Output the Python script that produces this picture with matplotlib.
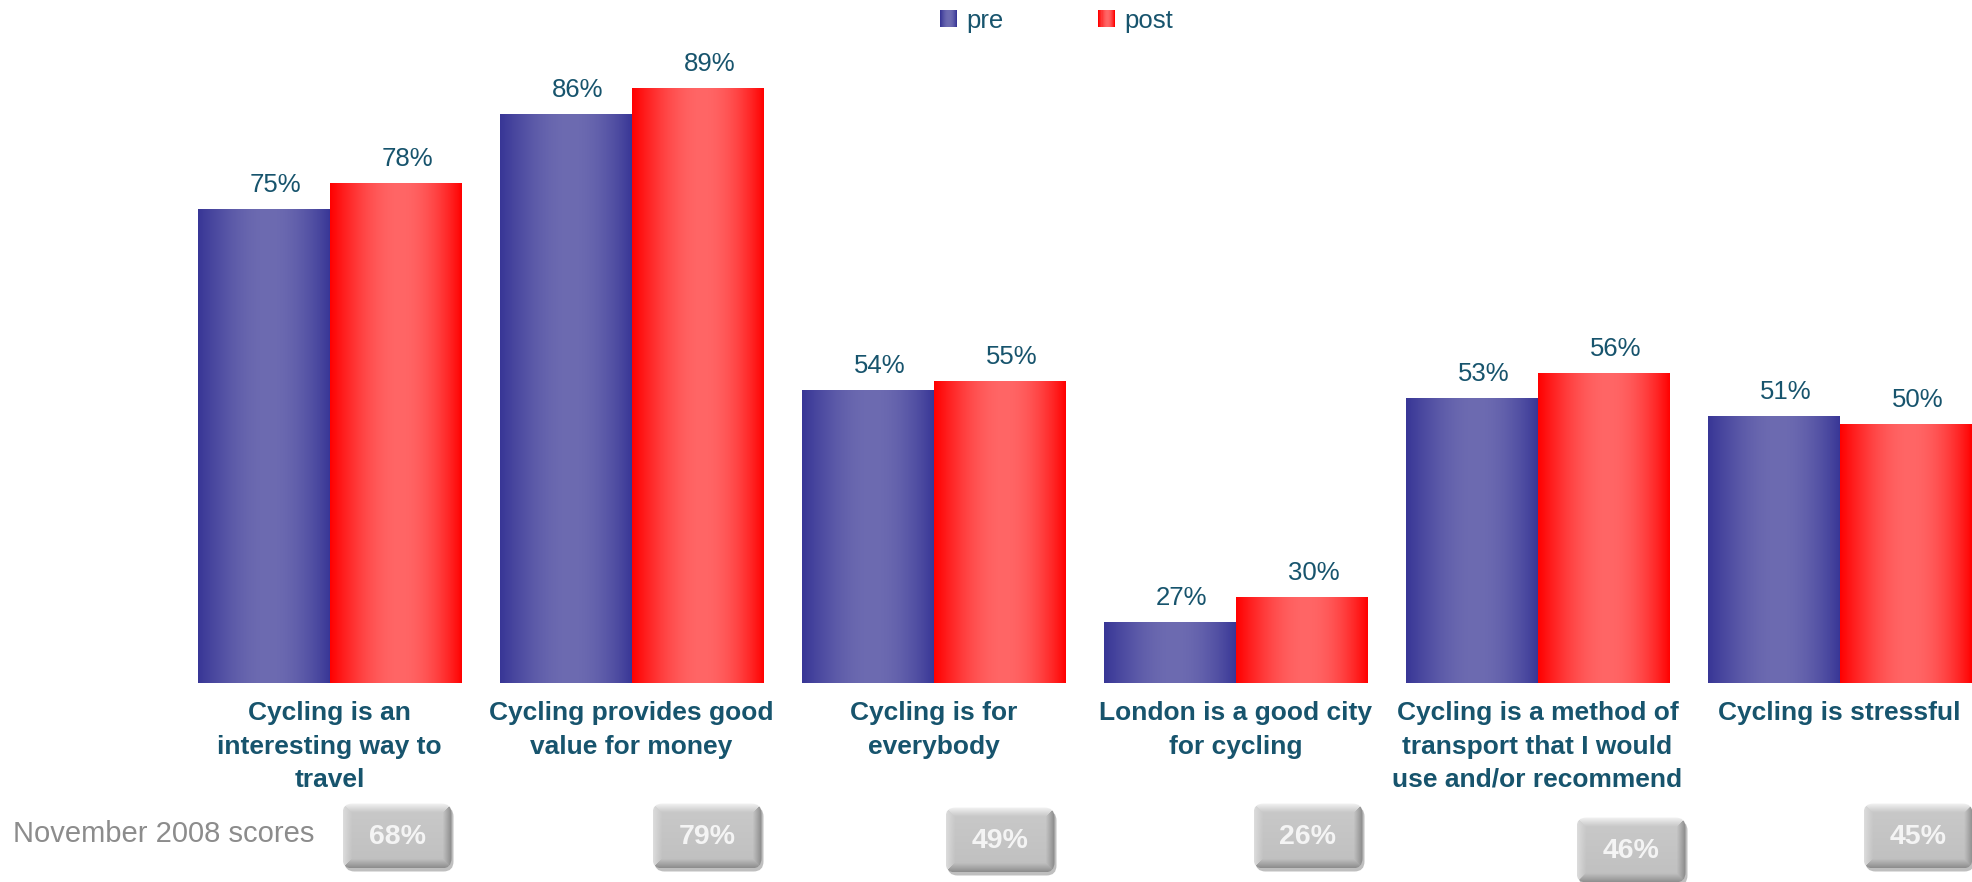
import numpy as np
import matplotlib
matplotlib.use("Agg")
import matplotlib.pyplot as plt
from matplotlib.patches import Rectangle, FancyBboxPatch, Patch
from matplotlib.legend_handler import HandlerBase
from matplotlib.colors import to_rgb

# ---- data ----
categories = [
    "Cycling is an\ninteresting way to\ntravel",
    "Cycling provides good\nvalue for money",
    "Cycling is for\neverybody",
    "London is a good city\nfor cycling",
    "Cycling is a method of\ntransport that I would\nuse and/or recommend",
    "Cycling is stressful",
]
series_names = ["pre", "post"]
pre = [75, 86, 54, 27, 53, 51]
post = [78, 89, 55, 30, 56, 50]
nov_2008 = [68, 79, 49, 26, 46, 45]
nov_label = "November 2008 scores"

# ---- style / layout ----
W, H = 1972, 882
TEAL = "#17546d"
PRE_EDGE, PRE_MID = "#383696", "#6d6bb1"
POST_EDGE, POST_MID = "#ff0000", "#ff6666"
plt.rcParams["font.family"] = ["Liberation Sans", "DejaVu Sans"]

# score badge centres (pixels, origin top-left)
badge_centres = [(397, 836), (707, 836), (1000, 840), (1308, 836), (1631, 850), (1918, 836)]
badge_w, badge_h = 109, 65


def gradient_row(edge, mid, n=256):
    t = np.linspace(0, 1, n)
    s = np.sin(np.pi * t ** 1.1) ** 0.9
    e, m = np.array(to_rgb(edge)), np.array(to_rgb(mid))
    return (e[None, :] * (1 - s[:, None]) + m[None, :] * s[:, None])[None, :, :]


class GradientHandler(HandlerBase):
    def __init__(self, edge, mid, n=16):
        super().__init__()
        self.rgb = gradient_row(edge, mid, n)[0]
        self.n = n

    def create_artists(self, legend, orig_handle, xdescent, ydescent,
                       width, height, fontsize, trans):
        arts = []
        step = width / self.n
        for i in range(self.n):
            r = Rectangle((-xdescent + i * step, -ydescent), step * 1.05, height,
                          facecolor=self.rgb[i], edgecolor="none", transform=trans)
            arts.append(r)
        return arts


fig = plt.figure(figsize=(W / 100, H / 100), dpi=100)
base_px = 682.7
px_per_pct = 8.615
y_min = 20
ax = fig.add_axes([0, (H - base_px) / H, 1, base_px / H])

x = np.arange(len(categories))
group_px = 302.0
first_px = 329.5
bw = 132 / group_px

for off, vals, (edge, mid) in [(-bw / 2, pre, (PRE_EDGE, PRE_MID)),
                                (bw / 2, post, (POST_EDGE, POST_MID))]:
    bars = ax.bar(x + off, vals, width=bw, color="none", linewidth=0, zorder=2)
    grad = gradient_row(edge, mid)
    for rect, v in zip(bars, vals):
        x0 = rect.get_x()
        im = ax.imshow(grad, extent=[x0, x0 + rect.get_width(), y_min, rect.get_height()],
                       aspect="auto", interpolation="bilinear", zorder=2)
        im.set_clip_path(rect)
        ax.annotate(f"{v}%", xy=(rect.get_x() + rect.get_width() / 2, v),
                    xytext=(12 * 0.72, 17 * 0.72), textcoords="offset points",
                    ha="center", va="baseline", fontsize=18.5, color=TEAL)

ax.set_xlim(-first_px / group_px, (W - first_px) / group_px)
ax.set_ylim(y_min, y_min + base_px / px_per_pct)
ax.set_xticks(x, categories)
ax.tick_params(axis="x", length=0, pad=13.5)
for lab in ax.get_xticklabels():
    lab.set_fontsize(19)
    lab.set_fontweight("bold")
    lab.set_color(TEAL)
    lab.set_linespacing(1.48)
ax.set_yticks([])
for sp in ax.spines.values():
    sp.set_visible(False)
ax.patch.set_alpha(0)

# legend
h_pre, h_post = Patch(), Patch()
fig.legend([h_pre, h_post], series_names,
           handler_map={h_pre: GradientHandler(PRE_EDGE, PRE_MID),
                        h_post: GradientHandler(POST_EDGE, POST_MID)},
           loc="upper center", bbox_to_anchor=(1056.5 / W, 1 + 4 / H), ncol=2,
           frameon=False, fontsize=18.5, handlelength=0.66, handleheight=0.66,
           handletextpad=0.35, columnspacing=3.7, borderpad=0, labelcolor=TEAL)

# overlay in pixel units for the November 2008 badges
ov = fig.add_axes([0, 0, 1, 1], zorder=3)
ov.set_xlim(0, W)
ov.set_ylim(H, 0)
ov.axis("off")
ov.patch.set_alpha(0)

ov.text(13, 834, nov_label, ha="left", va="center", fontsize=21, color="#8c8c8c")


def bevel_image(w, h, b=9):
    yy, xx = np.mgrid[0:h, 0:w].astype(float)
    face = 0.79 - 0.04 * (yy / h)
    dists = [yy, h - 1 - yy, xx, w - 1 - xx]
    cols = [0.95, 0.56, 0.86, 0.54]
    weights = [np.clip(1 - d / b, 0, 1) ** 1.1 for d in dists]
    wstack = np.stack(weights)
    idx = np.argmax(wstack, axis=0)
    wmax = np.max(wstack, axis=0)
    edge_col = np.choose(idx, cols)
    val = face * (1 - wmax) + edge_col * wmax
    return np.repeat(val[:, :, None], 3, axis=2)


bev = bevel_image(badge_w, badge_h)
for (cx, cy), v in zip(badge_centres, nov_2008):
    x0, y0 = cx - badge_w / 2, cy - badge_h / 2
    shadow = FancyBboxPatch((x0 + 2, y0 + 3), badge_w, badge_h,
                            boxstyle="round,pad=0,rounding_size=10",
                            facecolor="black", alpha=0.25, edgecolor="none", zorder=1)
    ov.add_patch(shadow)
    clip = FancyBboxPatch((x0, y0), badge_w, badge_h,
                          boxstyle="round,pad=0,rounding_size=10",
                          facecolor="none", edgecolor="none", zorder=1)
    ov.add_patch(clip)
    im = ov.imshow(bev, extent=[x0, x0 + badge_w, y0 + badge_h, y0],
                   origin="upper", aspect="auto", interpolation="bilinear", zorder=2)
    im.set_clip_path(clip)
    ov.text(cx, cy + 1, f"{v}%", ha="center", va="center", fontsize=20.5,
            fontweight="bold", color="#f4f4f4", zorder=3)

ov.set_xlim(0, W)
ov.set_ylim(H, 0)

fig.savefig("out.png", dpi=100)
